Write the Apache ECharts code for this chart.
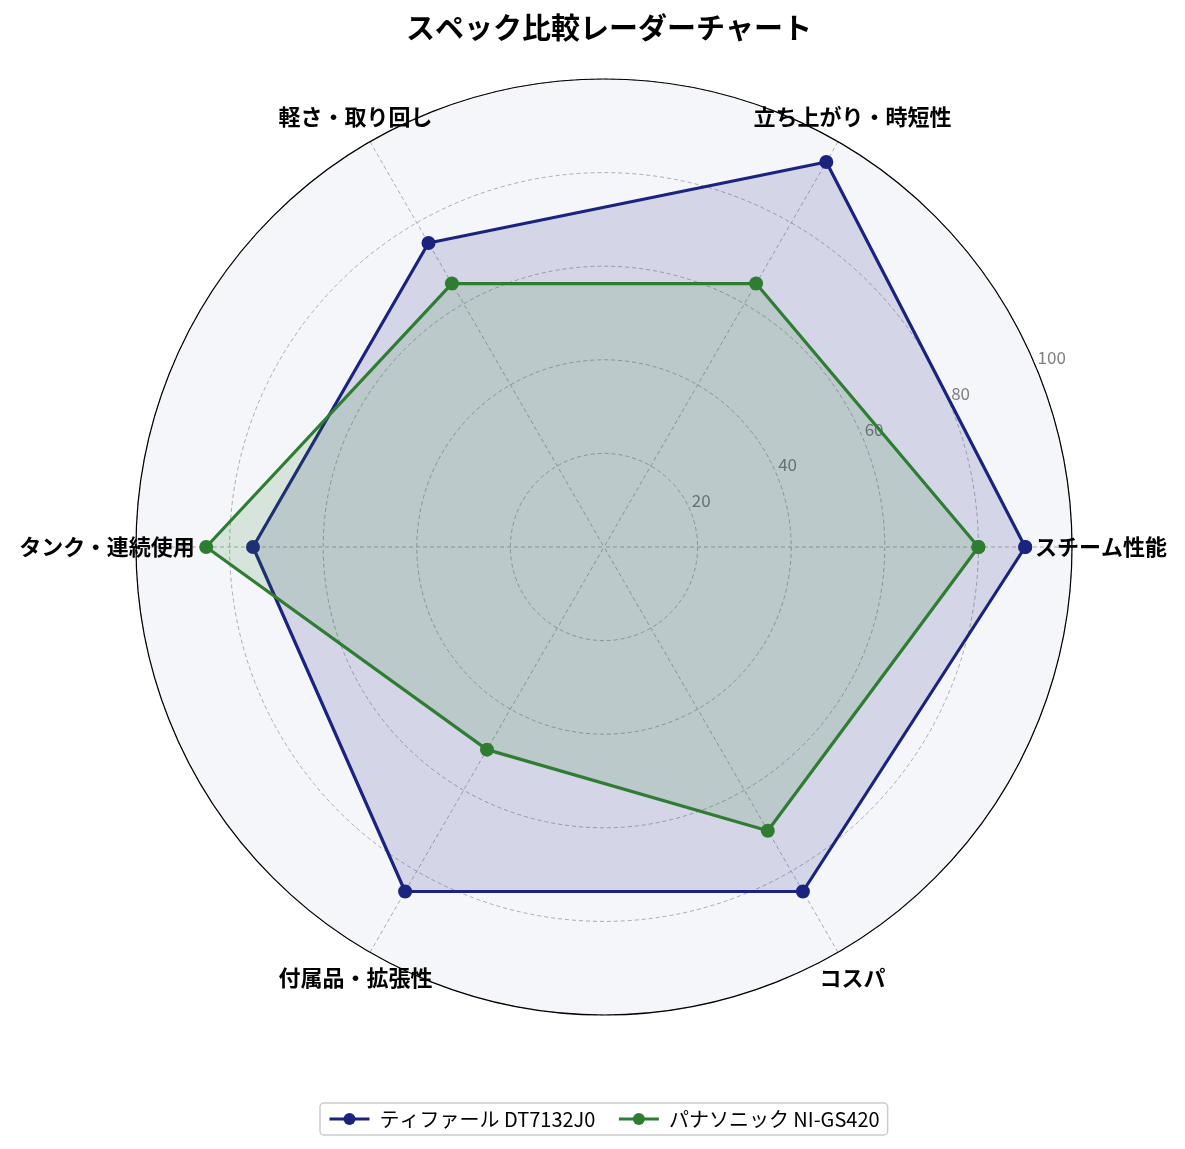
<!DOCTYPE html>
<html><head><meta charset="utf-8">
<script src="https://cdn.jsdelivr.net/npm/echarts@6/dist/echarts.min.js"></script>
<style>html,body{margin:0;padding:0;background:#fff}#c{width:1185px;height:1149px}</style>
</head><body><div id="c"></div>
<script>
const categories = ['スチーム性能','立ち上がり・時短性','軽さ・取り回し','タンク・連続使用','付属品・拡張性','コスパ'];
const seriesNames = ['ティファール DT7132J0','パナソニック NI-GS420'];
const tefalValues = [90, 95, 75, 75, 85, 85];
const panaValues = [80, 65, 65, 85, 50, 70];
const radialTicks = [20, 40, 60, 80, 100];
const colors = ['#1a237e', '#2e7d32'];

const FONT = '"Noto Sans CJK JP", "DejaVu Sans", sans-serif';
const center = [604, 547];
const radius = 468;
const step = 360 / categories.length;
const labelRadius = 106.2; // in axis units, just outside the 100 ring

function closed(vals) {
  const d = vals.map((v, i) => [v, i * step]);
  d.push([vals[0], 360]);
  return d;
}

const chart = echarts.init(document.getElementById('c'));
chart.setOption({
  backgroundColor: '#ffffff',
  textStyle: { fontFamily: FONT },
  title: {
    text: 'スペック比較レーダーチャート',
    left: 604, textAlign: 'center', top: 8,
    textStyle: { fontFamily: FONT, fontSize: 29, fontWeight: 'bold', color: '#000' }
  },
  legend: {
    bottom: 14, left: 320,
    data: seriesNames,
    itemWidth: 40, itemHeight: 15, itemGap: 22,
    lineStyle: { width: 3 },
    borderColor: '#cccccc', borderWidth: 1.5, borderRadius: 4,
    padding: [6, 8],
    textStyle: { fontFamily: FONT, fontSize: 20, color: '#000', padding: [0, 0, 0, 5] }
  },
  polar: [
    { center: center, radius: radius },
    { center: center, radius: radius }
  ],
  angleAxis: [
    {
      polarIndex: 0, type: 'value', min: 0, max: 360, interval: step,
      startAngle: 0, clockwise: false,
      axisLine: { show: true, lineStyle: { color: '#000', width: 1.2 } },
      axisTick: { show: false },
      axisLabel: { show: false },
      splitLine: { show: true, lineStyle: { color: '#999', type: [4, 3], width: 0.8 } },
      z: 2
    },
    {
      polarIndex: 1, type: 'value', min: 0, max: 360,
      startAngle: 22.5, clockwise: false,
      axisLine: { show: false }, axisTick: { show: false },
      axisLabel: { show: false }, splitLine: { show: false }
    }
  ],
  radiusAxis: [
    {
      polarIndex: 0, min: 0, max: 100, interval: 20,
      axisLine: { show: false }, axisTick: { show: false }, axisLabel: { show: false },
      splitLine: { show: false },
      splitArea: { show: true, areaStyle: { color: ['#f5f6fa'] } },
      z: 0
    },
    {
      polarIndex: 1, min: 0, max: 100, interval: 20,
      axisLine: { show: false }, axisTick: { show: false },
      splitLine: { show: true, lineStyle: { color: '#999', type: [4, 3], width: 0.8 } },
      axisLabel: {
        show: true, showMinLabel: false, color: '#808080', fontSize: 17, fontFamily: FONT,
        margin: 2, align: 'left', verticalAlign: 'bottom', padding: [0, 0, 0, 2],
        formatter: v => (radialTicks.indexOf(v) >= 0 ? String(v) : '')
      },
      z: 1
    }
  ],
  series: [
    {
      name: seriesNames[0], type: 'line', coordinateSystem: 'polar', polarIndex: 0,
      data: closed(tefalValues), clip: false,
      symbol: 'circle', symbolSize: 14,
      lineStyle: { color: colors[0], width: 3.2 },
      itemStyle: { color: colors[0] },
      areaStyle: { color: colors[0], opacity: 0.15 },
      z: 3
    },
    {
      name: seriesNames[1], type: 'line', coordinateSystem: 'polar', polarIndex: 0,
      data: closed(panaValues), clip: false,
      symbol: 'circle', symbolSize: 14,
      lineStyle: { color: colors[1], width: 3.2 },
      itemStyle: { color: colors[1] },
      areaStyle: { color: colors[1], opacity: 0.15 },
      z: 4
    },
    {
      name: 'labels', type: 'scatter', coordinateSystem: 'polar', polarIndex: 0,
      data: categories.map((c, i) => [labelRadius, i * step]),
      symbolSize: 0, clip: false, silent: true,
      itemStyle: { opacity: 1 },
      label: {
        show: true, position: [0, 0], align: 'center', verticalAlign: 'middle',
        formatter: p => categories[p.dataIndex],
        fontFamily: FONT, fontSize: 22, fontWeight: 'bold', color: '#000000',
        textBorderWidth: 0
      },
      z: 6
    }
  ]
});
</script></body></html>
